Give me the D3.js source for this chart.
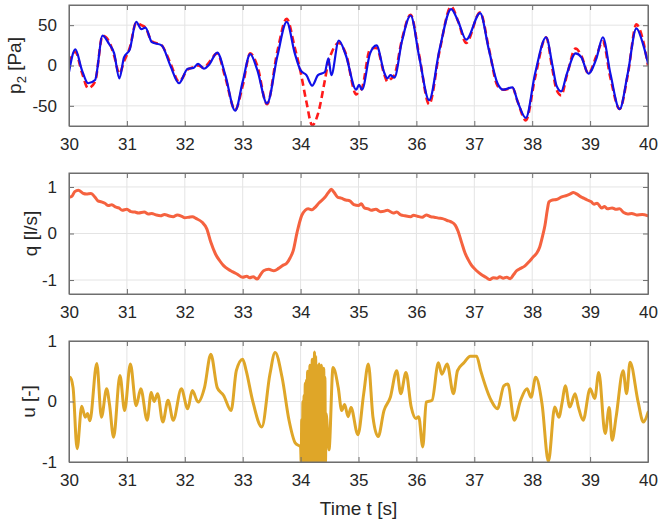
<!DOCTYPE html>
<html>
<head>
<meta charset="utf-8">
<script src="https://cdn.jsdelivr.net/npm/d3@7"></script>
<style>
  html, body { margin: 0; padding: 0; background: #fff; }
  svg { display: block; font-family: "Liberation Sans", Arial, Helvetica, sans-serif; }
</style>
</head>
<body>
<svg id="chart" width="661" height="524"></svg>
<script>
// ---------------- DATA ----------------
const xTicks = [30, 31, 32, 33, 34, 35, 36, 37, 38, 39, 40];
const pTicks = [-50, 0, 50];
const qTicks = [-1, 0, 1];
const uTicks = [-1, 0, 1];

// Panel 1: pressure p2 [Pa]
const tP = [30.00,30.11,30.22,30.33,30.45,30.58,30.69,30.78,30.87,30.95,31.05,31.16,31.25,31.32,31.43,31.60,31.75,31.90,32.05,32.15,32.23,32.33,32.42,32.56,32.70,32.87,33.00,33.13,33.25,33.42,33.60,33.76,33.90,34.00,34.10,34.20,34.30,34.42,34.48,34.53,34.66,34.78,34.96,35.01,35.06,35.20,35.31,35.45,35.50,35.55,35.62,35.75,35.90,36.05,36.22,36.40,36.60,36.72,36.86,37.10,37.25,37.40,37.50,37.66,37.75,37.89,38.05,38.24,38.35,38.42,38.50,38.60,38.75,38.85,38.97,39.11,39.22,39.35,39.51,39.65,39.80,39.90,40.00];
const pMeasured = [-8,20,-5,-22,-18,37,27,15,-16,10,20,54,45,47,29,25,0,-22,-4,-3,2,-4,1,16,-12,-56,-20,14,-5,-47,12,54,15,-6,-12,-25,-12,-8,9,-12,31,13,-30,-24,-30,15,25,-10,-16,-12,-15,30,62,10,-43,20,70,55,32,65,20,-22,-30,-27,-45,-65,-10,35,0,-25,-32,-10,15,10,-10,9,35,-10,-54,-10,46,30,3];
const pReference = [3,17,-8,-28,-20,37,30,12,-10,5,22,53,50,47,30,25,3,-20,-5,-2,0,-3,4,15,-15,-55,-25,15,0,-48,18,58,22,-8,-45,-74,-60,-18,5,15,28,15,-36,-32,-28,20,22,-12,-20,-17,-12,32,63,12,-48,18,73,55,28,66,22,-25,-30,-28,-45,-68,-15,35,-5,-30,-37,-12,21,12,-10,12,30,-15,-54,-12,51,35,0];

// Panel 2: flow q [l/s]
const tQ = [30.00,30.05,30.10,30.16,30.25,30.30,30.38,30.45,30.50,30.56,30.62,30.68,30.74,30.80,30.86,30.92,31.00,31.07,31.14,31.20,31.30,31.37,31.43,31.50,31.58,31.65,31.72,31.80,31.87,31.95,32.00,32.07,32.13,32.20,32.30,32.38,32.45,32.53,32.60,32.67,32.75,32.82,32.90,33.00,33.07,33.12,33.18,33.25,33.30,33.36,33.45,33.54,33.62,33.70,33.76,33.82,33.87,33.94,34.02,34.08,34.13,34.20,34.24,34.32,34.42,34.48,34.53,34.58,34.64,34.70,34.78,34.85,34.92,35.00,35.05,35.10,35.17,35.22,35.30,35.38,35.45,35.50,35.60,35.66,35.73,35.80,35.90,35.95,36.02,36.10,36.17,36.25,36.31,36.38,36.45,36.53,36.60,36.67,36.72,36.78,36.84,36.89,36.95,37.04,37.12,37.20,37.26,37.33,37.40,37.44,37.50,37.56,37.62,37.68,37.73,37.80,37.87,37.95,38.02,38.08,38.13,38.18,38.22,38.26,38.29,38.35,38.42,38.50,38.60,38.66,38.71,38.78,38.85,38.89,38.95,39.02,39.07,39.12,39.20,39.25,39.30,39.38,39.45,39.51,39.58,39.65,39.72,39.80,39.90,40.00];
const qFlow = [0.78,0.80,0.90,0.93,0.86,0.85,0.86,0.78,0.70,0.68,0.65,0.60,0.62,0.57,0.55,0.50,0.52,0.47,0.46,0.44,0.46,0.42,0.43,0.40,0.38,0.41,0.38,0.36,0.40,0.37,0.34,0.35,0.36,0.32,0.24,0.10,-0.19,-0.44,-0.58,-0.69,-0.77,-0.82,-0.87,-0.94,-0.92,-0.95,-0.93,-0.98,-0.90,-0.80,-0.77,-0.80,-0.75,-0.68,-0.64,-0.52,-0.38,0.03,0.39,0.50,0.53,0.51,0.55,0.66,0.78,0.88,0.95,0.88,0.78,0.76,0.72,0.70,0.62,0.60,0.64,0.55,0.53,0.50,0.52,0.47,0.48,0.50,0.44,0.46,0.40,0.38,0.36,0.39,0.37,0.35,0.40,0.36,0.35,0.33,0.32,0.28,0.25,0.18,0.05,-0.19,-0.42,-0.55,-0.68,-0.80,-0.88,-0.94,-0.99,-0.95,-0.96,-0.93,-0.96,-0.94,-0.97,-0.88,-0.80,-0.75,-0.70,-0.60,-0.50,-0.42,-0.29,-0.05,0.17,0.50,0.68,0.72,0.73,0.78,0.82,0.85,0.88,0.84,0.78,0.76,0.72,0.68,0.63,0.65,0.55,0.58,0.53,0.55,0.52,0.53,0.45,0.42,0.43,0.40,0.41,0.38];

// Panel 3: control signal u [-]
const tU = [30.00,30.02,30.07,30.14,30.22,30.28,30.32,30.36,30.48,30.56,30.65,30.70,30.77,30.88,30.96,31.06,31.16,31.24,31.35,31.42,31.47,31.53,31.62,31.71,31.80,31.94,32.05,32.13,32.23,32.34,32.45,32.56,32.67,32.80,32.89,33.00,33.06,33.17,33.33,33.47,33.56,33.68,33.80,33.91,
  34.00,34.01,34.02,34.03,34.04,34.05,34.06,34.07,34.08,34.09,34.10,34.11,34.12,34.13,34.14,34.15,34.16,34.17,34.18,34.19,34.20,34.21,34.22,34.23,34.24,34.25,34.26,34.27,34.28,34.29,34.30,34.31,34.32,34.33,34.34,34.35,34.36,34.37,34.38,34.39,34.40,34.41,34.42,34.43,34.44,
  34.49,34.56,34.65,34.71,34.76,34.82,34.87,34.99,35.09,35.17,35.25,35.34,35.44,35.55,35.66,35.73,35.82,35.91,35.99,36.04,36.11,36.17,36.27,36.38,36.44,36.53,36.64,36.71,36.82,36.93,37.04,37.11,37.29,37.40,37.51,37.58,37.69,37.80,37.91,37.98,38.06,38.17,38.28,38.39,38.46,38.52,38.57,38.65,38.74,38.80,38.88,39.00,39.08,39.15,39.26,39.33,39.38,39.45,39.57,39.63,39.69,39.83,39.92,40.00];
const uCtrl = [0.40,0.40,0.23,-0.78,-0.08,-0.26,-0.20,-0.32,0.63,-0.26,0.21,-0.05,-0.59,0.43,-0.15,0.62,-0.07,0.21,-0.31,0.15,0.00,0.13,-0.34,0.02,-0.31,0.21,-0.12,0.18,-0.01,0.23,0.78,0.23,0.10,-0.15,0.51,0.70,0.51,0.02,-0.42,0.45,0.81,0.40,-0.31,-0.69,
  -0.75,-1,-0.30,-1,0.00,-1,0.10,-1,0.30,-1,0.35,-1,0.50,-1,0.45,-1,0.60,-1,0.55,-1,0.70,-1,0.65,-1,0.82,-1,0.75,-1,0.60,-1,0.55,-1,0.62,-1,0.50,-1,0.60,-1,0.45,-1,0.55,-1,0.40,-1,-0.20,
  -0.80,0.56,0.23,-0.15,-0.05,-0.25,-0.10,-0.55,0.13,0.62,-0.26,-0.58,-0.15,0.07,0.51,0.13,0.48,-0.09,-0.28,-0.25,-0.75,-0.01,0.02,0.64,0.45,0.62,0.13,0.51,0.64,0.75,0.75,0.51,0.02,-0.12,0.26,0.29,-0.31,0.02,0.21,0.07,0.40,-0.04,-0.99,-0.09,-0.26,0.00,0.26,-0.09,0.13,-0.10,-0.31,0.21,0.05,0.48,-0.53,-0.10,-0.64,-0.25,0.51,0.13,0.65,-0.01,-0.34,-0.18];

// ---------------- DRAWING ----------------
const svg = d3.select("#chart");
const left = 69, right = 648;
const x = d3.scaleLinear().domain([30, 40]).range([left, right]);
const boxColor = "#6e6e6e", gridColor = "#e4e4e4", textColor = "#262626";
const fmt = d => String(d);

function panel(cfg) {
  const { top, bottom, yDomain, yTicks, id } = cfg;
  const y = d3.scaleLinear().domain(yDomain).range([bottom, top]);
  const g = svg.append("g");

  g.append("clipPath").attr("id", id).append("rect")
    .attr("x", left).attr("y", top).attr("width", right - left).attr("height", bottom - top);

  // grid
  g.append("g").selectAll("line").data(xTicks).join("line")
    .attr("x1", d => x(d)).attr("x2", d => x(d)).attr("y1", top).attr("y2", bottom)
    .attr("stroke", gridColor).attr("stroke-width", 1);
  g.append("g").selectAll("line").data(yTicks).join("line")
    .attr("y1", d => y(d)).attr("y2", d => y(d)).attr("x1", left).attr("x2", right)
    .attr("stroke", gridColor).attr("stroke-width", 1);

  // series
  const dataG = g.append("g").attr("clip-path", `url(#${id})`);
  cfg.series.forEach(s => {
    const pts = s.t.map((t, i) => [t, s.v[i]]);
    const line = d3.line().x(d => x(d[0])).y(d => y(d[1])).curve(d3.curveMonotoneX);
    dataG.append("path").attr("d", line(pts)).attr("fill", "none")
      .attr("stroke", s.color).attr("stroke-width", s.width)
      .attr("stroke-dasharray", s.dash || null)
      .attr("stroke-linejoin", "round").attr("stroke-linecap", s.dash ? "butt" : "round");
  });

  // axes (ticks inward, box)
  const ax = g.append("g");
  ax.append("g").attr("transform", `translate(0,${bottom})`)
    .call(d3.axisBottom(x).tickValues(xTicks).tickSizeInner(-5).tickSizeOuter(0).tickPadding(12).tickFormat(fmt));
  ax.append("g").attr("transform", `translate(0,${top})`)
    .call(d3.axisTop(x).tickValues(xTicks).tickSizeInner(-5).tickSizeOuter(0).tickFormat(""));
  ax.append("g").attr("transform", `translate(${left},0)`)
    .call(d3.axisLeft(y).tickValues(yTicks).tickSizeInner(-5).tickSizeOuter(0).tickPadding(12).tickFormat(fmt));
  ax.append("g").attr("transform", `translate(${right},0)`)
    .call(d3.axisRight(y).tickValues(yTicks).tickSizeInner(-5).tickSizeOuter(0).tickFormat(""));
  ax.selectAll(".domain").attr("stroke", boxColor).attr("stroke-width", 1);
  ax.selectAll(".tick line").attr("stroke", boxColor).attr("stroke-width", 1);
  ax.selectAll(".tick text").attr("fill", textColor).attr("font-size", 17)
    .attr("font-family", "'Liberation Sans', Arial, sans-serif");
  // box edges
  g.append("rect").attr("x", left).attr("y", top).attr("width", right - left).attr("height", bottom - top)
    .attr("fill", "none").attr("stroke", boxColor).attr("stroke-width", 1);

  // y label
  const lab = g.append("text")
    .attr("transform", `translate(${cfg.labelX},${(top + bottom) / 2}) rotate(-90)`)
    .attr("text-anchor", "middle").attr("fill", textColor).attr("font-size", 19);
  cfg.label(lab);
}

panel({
  id: "clipP", top: 5, bottom: 126, yDomain: [-75, 75], yTicks: pTicks, labelX: 21,
  series: [
    { t: tP, v: pReference, color: "#ff1a1a", width: 2.6, dash: "7,4" },
    { t: tP, v: pMeasured, color: "#1010e8", width: 2.2 }
  ],
  label: t => {
    t.append("tspan").text("p");
    t.append("tspan").attr("font-size", 13).attr("dy", 5).text("2");
    t.append("tspan").attr("dy", -5).text(" [Pa]");
  }
});

panel({
  id: "clipQ", top: 173, bottom: 294, yDomain: [-1.3, 1.3], yTicks: qTicks, labelX: 37,
  series: [{ t: tQ, v: qFlow, color: "#f5623f", width: 3 }],
  label: t => t.text("q [l/s]")
});

panel({
  id: "clipU", top: 341, bottom: 462, yDomain: [-1, 1], yTicks: uTicks, labelX: 35,
  series: [{ t: tU, v: uCtrl, color: "#dfa628", width: 3 }],
  label: t => t.text("u [-]")
});

svg.append("text").attr("x", (left + right) / 2).attr("y", 515)
  .attr("text-anchor", "middle").attr("fill", textColor).attr("font-size", 19)
  .text("Time t [s]");
</script>
</body>
</html>
